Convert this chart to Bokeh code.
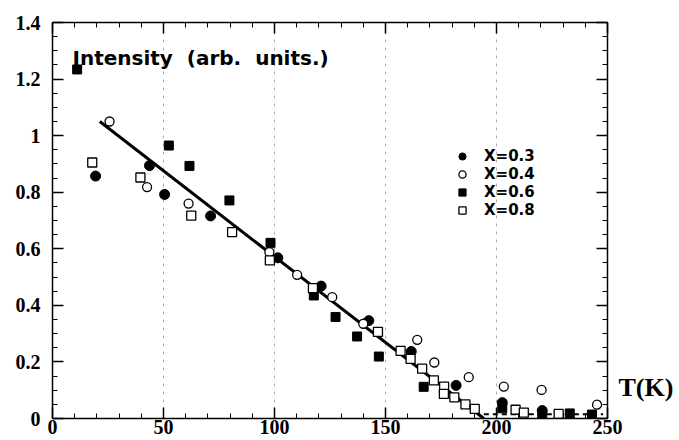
from bokeh.plotting import figure
from bokeh.models import LinearAxis, FixedTicker, Label, Legend, LegendItem, Range1d
from bokeh.embed import file_html
from bokeh.resources import INLINE

# ---- data ----
x03_T = [19.4, 43.7, 50.5, 71.2, 101.5, 121.0, 142.5, 161.6, 181.8, 202.6, 220.6]
x03_I = [0.857, 0.894, 0.792, 0.716, 0.568, 0.468, 0.346, 0.237, 0.117, 0.056, 0.028]

x04_T = [25.7, 42.6, 61.3, 97.7, 110.2, 126.0, 140.0, 164.3, 172.0, 187.5, 203.3, 220.3, 245.3]
x04_I = [1.050, 0.818, 0.760, 0.588, 0.508, 0.429, 0.335, 0.278, 0.198, 0.146, 0.113, 0.101, 0.049]

x06_T = [11.1, 52.4, 61.7, 79.7, 98.2, 117.7, 127.5, 137.2, 147.0, 167.2, 202.6, 220.6, 233.0, 243.0]
x06_I = [1.234, 0.965, 0.893, 0.771, 0.621, 0.435, 0.359, 0.290, 0.219, 0.112, 0.036, 0.015, 0.018, 0.014]

x08_T = [17.9, 39.6, 62.5, 80.9, 97.9, 117.3, 146.6, 156.8, 161.3, 166.5, 171.8, 176.4, 176.3,
         181.0, 186.0, 190.2, 208.6, 212.3, 228.0]
x08_I = [0.905, 0.852, 0.717, 0.659, 0.559, 0.461, 0.306, 0.239, 0.211, 0.176, 0.135, 0.113, 0.087,
         0.075, 0.050, 0.034, 0.031, 0.021, 0.016]

fit_T = [21.3, 194.3]
fit_I = [1.05, 0.0]
tail_T = [194.3, 248.0]
tail_I = [0.015, 0.015]

series_labels = ["X=0.3", "X=0.4", "X=0.6", "X=0.8"]

x_ticks = [0, 50, 100, 150, 200, 250]
x_tick_labels = ["0", "50", "100", "150", "200", "250"]
y_ticks = [0, 0.2, 0.4, 0.6, 0.8, 1, 1.2, 1.4]
y_tick_labels = ["0", "0.2", "0.4", "0.6", "0.8", "1", "1.2", "1.4"]
x_minor = list(range(0, 251, 10))
y_minor = [round(0.05 * i, 2) for i in range(0, 29)]

title_text = "Intensity \u00a0(arb. \u00a0units.)"
x_unit_text = "T(K)"
x_unit_at = 0.11

# ---- figure ----
p = figure(width=679, height=440, output_backend="svg", toolbar_location=None,
           x_range=Range1d(0, 250), y_range=Range1d(0, 1.4),
           min_border_left=52, min_border_right=72, min_border_top=22, min_border_bottom=22)
p.outline_line_color = None
p.background_fill_color = "white"
p.border_fill_color = "white"

bottom = p.below[0]
left = p.left[0]

xt = FixedTicker(ticks=x_ticks, minor_ticks=x_minor)
yt = FixedTicker(ticks=y_ticks, minor_ticks=y_minor)

bottom.ticker = xt
left.ticker = yt
bottom.major_label_overrides = dict(zip(x_ticks, x_tick_labels))
left.major_label_overrides = dict(zip(y_ticks, y_tick_labels))

top = LinearAxis(ticker=xt)
right = LinearAxis(ticker=yt)
p.add_layout(top, "above")
p.add_layout(right, "right")

for ax in [bottom, left, top, right]:
    ax.axis_line_width = 1.5
    ax.axis_line_color = "black"
    ax.major_tick_in = 11
    ax.major_tick_out = 0
    ax.minor_tick_in = 5
    ax.minor_tick_out = 0
    ax.major_tick_line_width = 1.5
    ax.minor_tick_line_width = 1
    ax.major_tick_line_color = "black"
    ax.minor_tick_line_color = "black"
    ax.major_label_text_font = "Liberation Serif"
    ax.major_label_text_font_style = "bold"
    ax.major_label_text_color = "black"

for ax in [top, right]:
    ax.major_label_text_color = None
    ax.major_label_text_font_size = "1px"
    ax.major_label_standoff = 0

bottom.major_label_text_font_size = "20px"
bottom.major_label_standoff = 1
left.major_label_text_font_size = "20px"
left.major_label_standoff = 12

# "T(K)" placed as a tick label of an extra, otherwise invisible right axis
unit_axis = LinearAxis(ticker=FixedTicker(ticks=[x_unit_at], minor_ticks=[]),
                       major_label_overrides={x_unit_at: x_unit_text},
                       axis_line_color=None, major_tick_line_color=None, minor_tick_line_color=None,
                       major_tick_in=0, major_tick_out=0, minor_tick_in=0, minor_tick_out=0,
                       major_label_standoff=11, major_label_text_font="Liberation Serif",
                       major_label_text_font_style="bold", major_label_text_font_size="26px",
                       major_label_text_color="black")
p.add_layout(unit_axis, "right")

p.xgrid.ticker = xt
p.xgrid.grid_line_color = "#333333"
p.xgrid.grid_line_alpha = 0.4
p.xgrid.grid_line_dash = "3 5"
p.xgrid.grid_line_width = 1
p.ygrid.visible = False

# fit line and tail
p.line(fit_T, fit_I, line_color="black", line_width=3)
p.line(tail_T, tail_I, line_color="black", line_width=2, line_dash="5 4")

r1 = p.scatter(x03_T, x03_I, marker="circle", size=10, fill_color="black", line_color="black")
r2 = p.scatter(x04_T, x04_I, marker="circle", size=9, fill_color="white", line_color="black", line_width=1.3)
r3 = p.scatter(x06_T, x06_I, marker="square", size=9, fill_color="black", line_color="black")
r4 = p.scatter(x08_T, x08_I, marker="square", size=9, fill_color="white", line_color="black", line_width=1.3)

legend = Legend(items=[LegendItem(label=l, renderers=[r]) for l, r in zip(series_labels, [r1, r2, r3, r4])],
                location=(401, 199), border_line_color=None, background_fill_alpha=0,
                padding=0, margin=0, spacing=0, glyph_width=18, glyph_height=18, label_height=18,
                label_standoff=13, label_text_font="DejaVu Sans", label_text_font_style="bold",
                label_text_font_size="15px", label_text_color="black")
p.add_layout(legend)

p.add_layout(Label(x=9, y=1.276, text=title_text, text_font="DejaVu Sans", text_font_style="bold",
                   text_font_size="20px", text_baseline="alphabetic", text_color="black"))

open("out.html", "w").write(file_html(p, INLINE))
